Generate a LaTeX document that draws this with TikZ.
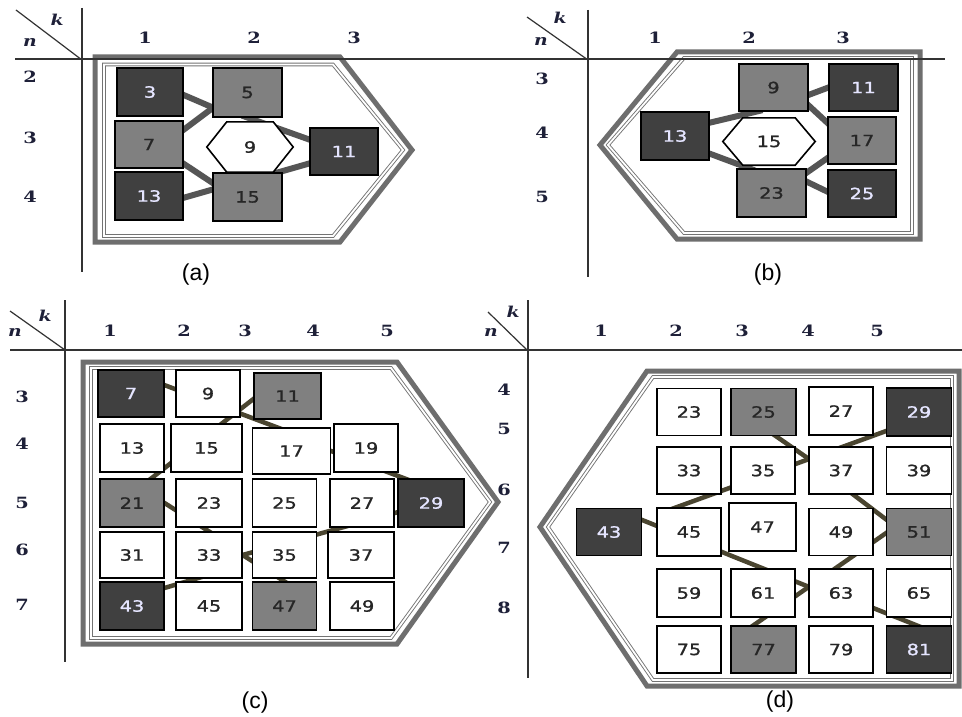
\documentclass[tikz,border=0pt]{standalone}
\usepackage{fontspec}
\setmainfont{DejaVu Sans}
\newfontfamily\boxfont[FakeStretch=1.25,FakeBold=1.2]{DejaVu Sans}
\newfontfamily\axfont[FakeStretch=1.25]{DejaVu Serif}
\newfontfamily\capfont{Liberation Sans}
\pgfdeclarelayer{bg}
\pgfdeclarelayer{mid}
\pgfsetlayers{bg,mid,main}
\definecolor{dkfill}{HTML}{404040}
\definecolor{mdfill}{HTML}{808080}
\definecolor{conAc}{HTML}{555555}
\definecolor{conCc}{HTML}{4A4530}
\definecolor{framec}{HTML}{6E6E6E}
\definecolor{axc}{HTML}{333333}
\definecolor{labc}{HTML}{1E2038}
\tikzset{
  bx/.style={draw=black, line width=1.1pt, inner sep=0pt, minimum width=66pt, minimum height=48pt,
    font=\boxfont\fontsize{15.5}{16}\selectfont},
  dk/.style={bx, fill=dkfill, text=white!90!blue},
  md/.style={bx, fill=mdfill, text=black!85},
  wt/.style={bx, fill=white, text=black!85},
  sz/.style 2 args={minimum width=#1pt, minimum height=#2pt},
  hexn/.style={inner sep=0pt, font=\boxfont\fontsize{15.5}{16}\selectfont, text=black!85},
  hexline/.style={draw=black, fill=white, line width=1.6pt},
  conA/.style={draw=conAc, line width=6pt, shorten <=-6pt, shorten >=-6pt},
  conC/.style={draw=conCc, line width=4.5pt, shorten <=-6pt, shorten >=-6pt},
  outerframe/.style={draw=framec, line width=5pt, line join=miter},
  innerframe/.style={draw=black!55, double=white, double distance=1.8pt, line width=0.9pt, line join=miter},
  ax/.style={draw=axc, line width=1.2pt},
  axl/.style={inner sep=0pt, text=labc, font=\axfont\bfseries\fontsize{15.5}{16}\selectfont},
  kn/.style={inner sep=0pt, text=labc, font=\axfont\bfseries\itshape\fontsize{15}{15}\selectfont},
  capl/.style={inner sep=0pt, font=\capfont\fontsize{23}{23}\selectfont}
}
\begin{document}
\begin{tikzpicture}[x=1pt,y=-1pt]
\useasboundingbox (0,0) rectangle (962,717);
% ---------------- panel (a) ----------------
\node[dk, sz={66}{48}] (a3) at (150,92) {3};
\node[md, sz={69}{49}] (a5) at (247.5,92.5) {5};
\node[md, sz={68}{47}] (a7) at (149,144.5) {7};
\node[dk, sz={68}{48}] (a13) at (149,196) {13};
\node[md, sz={69}{48}] (a15) at (247.5,197) {15};
\node[dk, sz={68}{47}] (a11) at (344,151.5) {11};
\node[hexn, minimum width=86pt, minimum height=50pt] (a9) at (250,147) {9};
% ---------------- panel (b) ----------------
\node[md, sz={69}{47}] (b9) at (773.5,87.5) {9};
\node[dk, sz={69}{47}] (b11) at (863.5,87.5) {11};
\node[dk, sz={68}{48}] (b13) at (675,136) {13};
\node[md, sz={68}{47}] (b17) at (862,140.5) {17};
\node[md, sz={69}{48}] (b23) at (771.5,193) {23};
\node[dk, sz={68}{47}] (b25) at (862,193.5) {25};
\node[hexn, minimum width=92pt, minimum height=47pt] (b15) at (769,141.5) {15};
% ---------------- panel (c) ----------------
\node[dk, sz={66}{47}] (c7) at (131,393.5) {7};
\node[wt, sz={64}{47}] (c9) at (208,393.5) {9};
\node[md, sz={67}{46}] (c11) at (287.5,396) {11};
\node[wt, sz={64}{48}] (c13) at (132,448) {13};
\node[wt, sz={71}{48}] (c15) at (206.5,448) {15};
\node[wt, sz={78}{46}] (c17) at (291.5,451) {17};
\node[wt, sz={64}{48}] (c19) at (366,448) {19};
\node[md, sz={64}{48}] (c21) at (132,503) {21};
\node[wt, sz={66}{48}] (c23) at (209,503) {23};
\node[wt, sz={64}{48}] (c25) at (284.5,503) {25};
\node[wt, sz={64}{48}] (c27) at (362,503) {27};
\node[dk, sz={66}{48}] (c29) at (431,503) {29};
\node[wt, sz={64}{46}] (c31) at (132,555) {31};
\node[wt, sz={66}{46}] (c33) at (209,555) {33};
\node[wt, sz={64}{46}] (c35) at (284.5,555) {35};
\node[wt, sz={66}{46}] (c37) at (361,555) {37};
\node[dk, sz={64}{48}] (c43) at (132,606) {43};
\node[wt, sz={66}{48}] (c45) at (209,606) {45};
\node[md, sz={64}{48}] (c47) at (284.5,606) {47};
\node[wt, sz={64}{48}] (c49) at (362,606) {49};
% ---------------- panel (d) ----------------
\node[wt, sz={64}{47}] (d23) at (689,412) {23};
\node[md, sz={65}{47}] (d25) at (763.5,412) {25};
\node[wt, sz={64}{48}] (d27) at (841,411) {27};
\node[dk, sz={65}{48}] (d29) at (919,412) {29};
\node[wt, sz={64}{47}] (d33) at (689,470.5) {33};
\node[wt, sz={64}{47}] (d35) at (763,470.5) {35};
\node[wt, sz={64}{47}] (d37) at (841,470.5) {37};
\node[wt, sz={65}{47}] (d39) at (919,470.5) {39};
\node[dk, sz={65}{47}] (d43) at (609,532) {43};
\node[wt, sz={64}{48}] (d45) at (689,532) {45};
\node[wt, sz={67}{48}] (d47) at (762.5,527) {47};
\node[wt, sz={64}{47}] (d49) at (841,532) {49};
\node[md, sz={65}{47}] (d51) at (919,532) {51};
\node[wt, sz={64}{48}] (d59) at (689,593) {59};
\node[wt, sz={64}{48}] (d61) at (763,593) {61};
\node[wt, sz={64}{48}] (d63) at (841,593) {63};
\node[wt, sz={65}{48}] (d65) at (919,593) {65};
\node[wt, sz={64}{47}] (d75) at (689,649.5) {75};
\node[md, sz={65}{47}] (d77) at (763.5,649.5) {77};
\node[wt, sz={64}{47}] (d79) at (841,649.5) {79};
\node[dk, sz={65}{47}] (d81) at (919,649.5) {81};
% ---------------- labels ----------------
\node[kn] (ka) at (57,20) {k};
\node[kn] (na) at (30,43) {n};
\node[axl] (ca1) at (145,38) {1};
\node[axl] (ca2) at (254,38) {2};
\node[axl] (ca3) at (354,38) {3};
\node[axl] (ra2) at (30,77) {2};
\node[axl] (ra3) at (30,138) {3};
\node[axl] (ra4) at (30,197) {4};
\node[capl] (capa) at (196,275) {(a)};
\node[kn] (kb) at (560,18) {k};
\node[kn] (nb) at (541,42) {n};
\node[axl] (cb1) at (655,38) {1};
\node[axl] (cb2) at (749,38) {2};
\node[axl] (cb3) at (843,38) {3};
\node[axl] (rb3) at (542,79) {3};
\node[axl] (rb4) at (542,133) {4};
\node[axl] (rb5) at (542,197) {5};
\node[capl] (capb) at (768,275) {(b)};
\node[kn] (kc) at (45,316) {k};
\node[kn] (nc) at (15,332) {n};
\node[axl] (cc1) at (110,331) {1};
\node[axl] (cc2) at (184,331) {2};
\node[axl] (cc3) at (245,331) {3};
\node[axl] (cc4) at (313,331) {4};
\node[axl] (cc5) at (387,331) {5};
\node[axl] (rc3) at (22,397) {3};
\node[axl] (rc4) at (22,444) {4};
\node[axl] (rc5) at (22,503) {5};
\node[axl] (rc6) at (22,550) {6};
\node[axl] (rc7) at (22,605) {7};
\node[capl] (capc) at (255,703) {(c)};
\node[kn] (kd) at (513,312) {k};
\node[kn] (nd) at (491,332) {n};
\node[axl] (cd1) at (601,331) {1};
\node[axl] (cd2) at (676,331) {2};
\node[axl] (cd3) at (742,331) {3};
\node[axl] (cd4) at (808,331) {4};
\node[axl] (cd5) at (877,331) {5};
\node[axl] (rd4) at (504,390) {4};
\node[axl] (rd5) at (504,429) {5};
\node[axl] (rd6) at (504,490) {6};
\node[axl] (rd7) at (504,548) {7};
\node[axl] (rd8) at (504,608) {8};
\node[capl] (capd) at (780,702) {(d)};
% ---------------- hexagons ----------------
\begin{pgfonlayer}{mid}
\draw[hexline] (a9.west) -- ([xshift=20pt]a9.north west) -- ([xshift=-20pt]a9.north east) -- (a9.east)
  -- ([xshift=-20pt]a9.south east) -- ([xshift=20pt]a9.south west) -- cycle;
\draw[hexline] (b15.west) -- ([xshift=20pt]b15.north west) -- ([xshift=-20pt]b15.north east) -- (b15.east)
  -- ([xshift=-20pt]b15.south east) -- ([xshift=20pt]b15.south west) -- cycle;
\end{pgfonlayer}
% ---------------- background: frames, axes, connectors ----------------
\begin{pgfonlayer}{bg}
\fill[white] (0,0) rectangle (962,717);
% frames
\draw[outerframe] (95,57) -- (340,57) -- (412,150) -- (340,242) -- (95,242) -- cycle;
\draw[innerframe] (104,64.5) -- (333,64.5) -- (403,150) -- (333,236) -- (104,236) -- cycle;
\draw[outerframe] (677,52) -- (920,52) -- (920,239) -- (677,239) -- (600,145) -- cycle;
\draw[innerframe] (684,58) -- (912,58) -- (912,233) -- (684,233) -- (608,145) -- cycle;
\draw[outerframe] (83,362) -- (397,362) -- (498,502) -- (397,644) -- (83,644) -- cycle;
\draw[innerframe] (91,368) -- (391,368) -- (490,502) -- (391,638) -- (91,638) -- cycle;
\draw[outerframe] (647,371) -- (959,371) -- (959,686) -- (647,686) -- (540,527) -- cycle;
\draw[innerframe] (653,377) -- (952,377) -- (952,680) -- (653,680) -- (548,527) -- cycle;
% axes
\draw[ax] (16,10) -- (82,60);
\draw[ax] (82,8) -- (82,272);
\draw[ax] (15,59) -- (480,59);
\draw[ax] (527,17) -- (588,60);
\draw[ax] (588,10) -- (588,277);
\draw[ax] (478,59) -- (945,59);
\draw[ax] (10,311) -- (65,350);
\draw[ax] (65,300) -- (65,662);
\draw[ax] (10,350) -- (500,350);
\draw[ax] (488,312) -- (527,350);
\draw[ax] (528,300) -- (528,678);
\draw[ax] (470,350) -- (962,350);
% connectors (a)
\draw[conA] (a3.355) -- (a5.203);
\draw[conA] (a7.23) -- (a5.204);
\draw[conA] (a5.south) -- (a11.161);
\draw[conA] (a15.39) -- (a11.199);
\draw[conA] (a7.331) -- (a15.158);
\draw[conA] (a13.357) -- (a15.168);
% connectors (b)
\draw[conA] (b9.348) -- (b11.180);
\draw[conA] (b9.333) -- (b17.153);
\draw[conA] (b13.21) -- (b9.235);
\draw[conA] (b13.333) -- (b23.132);
\draw[conA] (b17.207) -- (b23.30);
\draw[conA] (b23.18) -- (b25.177);
% connectors (c)
\draw[conC] (c7.14) -- (c17.121);
\draw[conC] (c11.185) -- (c21.52);
\draw[conC] (c17.east) -- (c29.137);
\draw[conC] (c29) -- (c33.east);
\draw[conC] (c21.east) -- (c33.north);
\draw[conC] (c33.east) -- (c47.north);
\draw[conC] (c43.29) -- (c33.242);
% connectors (d)
\draw[conC] (d25.297) -- (d37.160);
\draw[conC] (d29.210) -- (d45.118);
\draw[conC] (d43.20) -- (d63.169);
\draw[conC] (d77.113) -- (d51.182);
\draw[conC] (d37.297) -- (d51.159);
\draw[conC] (d63.335) -- (d81.95);
\end{pgfonlayer}
\end{tikzpicture}
\end{document}
